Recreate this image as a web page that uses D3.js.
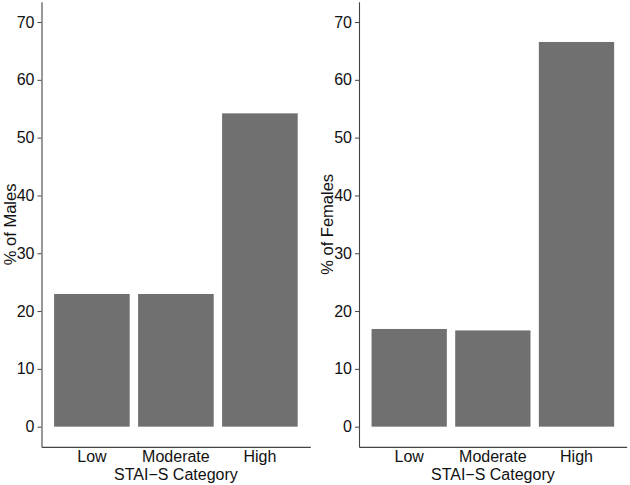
<!DOCTYPE html>
<html>
<head>
<meta charset="utf-8">
<script src="https://cdn.jsdelivr.net/npm/d3@7"></script>
<style>
  body { margin: 0; background: #fff; }
  svg text { font-family: "Liberation Sans", Arial, Helvetica, sans-serif; }
</style>
</head>
<body>
<svg id="chart" width="630" height="485"></svg>
<script>
// data
const categories = ["Low", "Moderate", "High"]
const malesPct = [22.95, 22.95, 54.2]
const femalesPct = [16.9, 16.65, 66.55]
const yTicks = [0, 10, 20, 30, 40, 50, 60, 70]
const yTitles = ["% of Males", "% of Females"]
const xTitle = "STAI\u2212S Category"

const svg = d3.select("#chart")

const plotTop = 1.8, plotBottom = 446.9
const y = d3.scaleLinear().domain([-3.5, 73.5]).range([plotBottom, plotTop])

function drawPanel(values, yTitle, left, right, titleX) {
    const g = svg.append("g")

    const x = d3.scaleBand()
        .domain(categories)
        .range([left, right])
        .paddingInner(0.1)
        .paddingOuter(0.15)

    // bars
    g.selectAll("rect")
        .data(values)
        .enter()
        .append("rect")
        .attr("x", (d, i) => x(categories[i]))
        .attr("width", x.bandwidth())
        .attr("y", d => y(d))
        .attr("height", d => y(0) - y(d))
        .attr("fill", "#707070")

    // y axis
    const ya = g.append("g")
        .attr("transform", "translate(" + left + ",0)")
        .call(d3.axisLeft(y).tickValues(yTicks).tickSize(4).tickPadding(3).tickSizeOuter(0))
    ya.select(".domain").attr("stroke", "#444").attr("stroke-width", 1.1)
    ya.selectAll(".tick line").attr("stroke", "#444")
    ya.selectAll(".tick text").attr("font-size", 16).attr("fill", "#111")

    // x axis
    const xa = g.append("g")
        .attr("transform", "translate(0," + plotBottom + ")")
        .call(d3.axisBottom(x).tickSize(0).tickPadding(3.5).tickSizeOuter(0))
    xa.select(".domain").attr("stroke", "#444").attr("stroke-width", 1.1)
    xa.selectAll(".tick text").attr("font-size", 16).attr("fill", "#111")

    // titles
    g.append("text")
        .attr("x", (left + right) / 2)
        .attr("y", 480)
        .attr("text-anchor", "middle")
        .attr("font-size", 16)
        .attr("fill", "#111")
        .text(xTitle)

    g.append("text")
        .attr("transform", "translate(" + titleX + "," + ((plotTop + plotBottom) / 2) + ") rotate(-90)")
        .attr("text-anchor", "middle")
        .attr("font-size", 16.5)
        .attr("fill", "#111")
        .text(yTitle)
}

drawPanel(malesPct, yTitles[0], 41.5, 310.3, 15.5)
drawPanel(femalesPct, yTitles[1], 359, 626.7, 333)
</script>
</body>
</html>
